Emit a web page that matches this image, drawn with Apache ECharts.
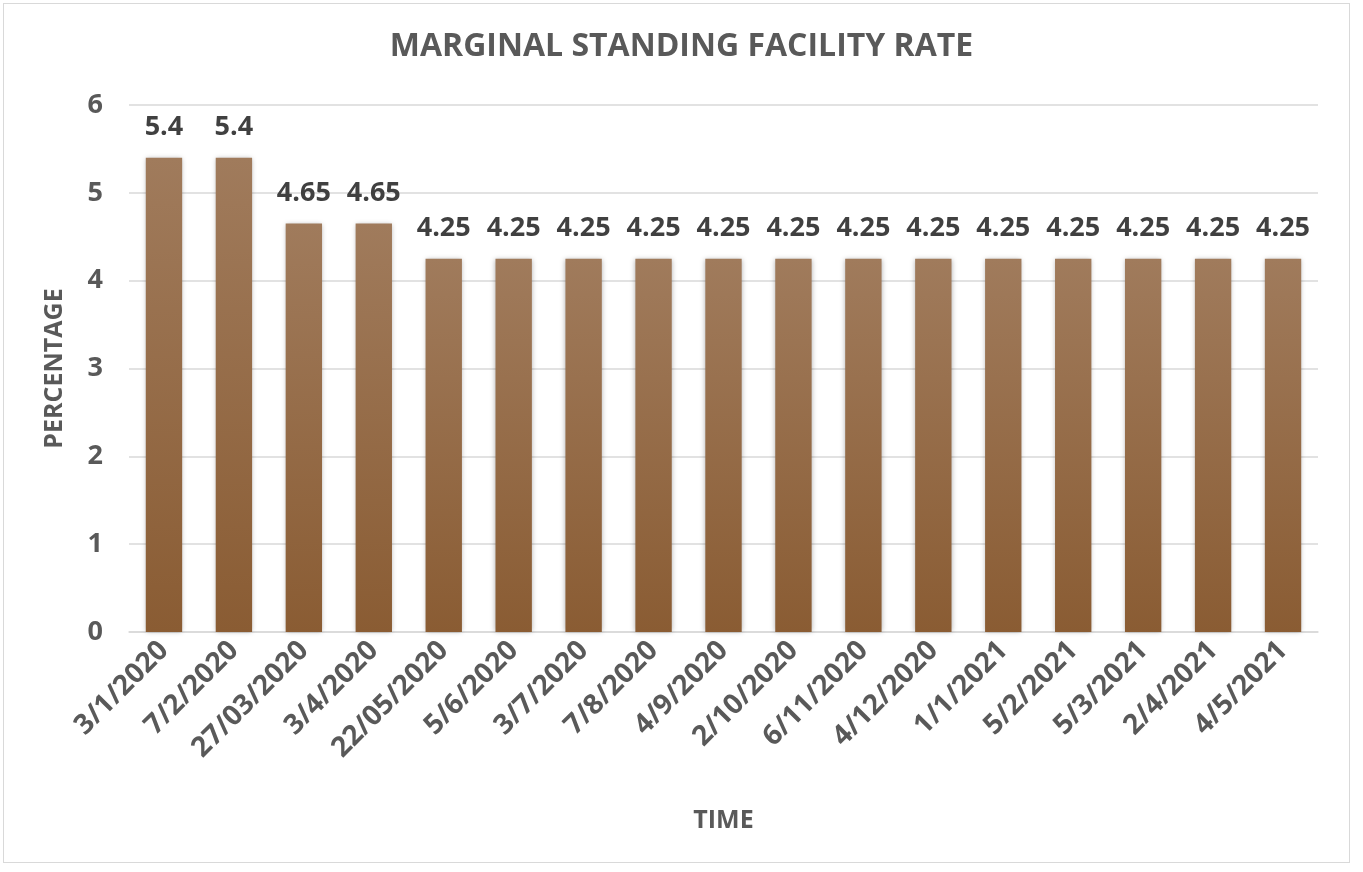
<!DOCTYPE html>
<html>
<head>
<meta charset="utf-8">
<script src="https://cdn.jsdelivr.net/npm/echarts@6/dist/echarts.min.js"></script>
<style>
  html, body { margin: 0; padding: 0; background: #fff; }
  #chart { width: 1363px; height: 872px; }
  .frame { position: absolute; left: 3px; top: 3px; width: 1345px; height: 858px; border: 1px solid #d9d9d9; pointer-events: none; }
</style>
</head>
<body>
<div id="chart"></div>
<div class="frame"></div>
<script>
// dates of MSF rate observations
var categories = ["3/1/2020", "7/2/2020", "27/03/2020", "3/4/2020", "22/05/2020", "5/6/2020",
  "3/7/2020", "7/8/2020", "4/9/2020", "2/10/2020", "6/11/2020", "4/12/2020",
  "1/1/2021", "5/2/2021", "5/3/2021", "2/4/2021", "4/5/2021"];
var msfRate = [5.4, 5.4, 4.65, 4.65, 4.25, 4.25, 4.25, 4.25, 4.25, 4.25, 4.25, 4.25,
  4.25, 4.25, 4.25, 4.25, 4.25];
var yTicks = [0, 1, 2, 3, 4, 5, 6];

var font = "'Open Sans', 'Noto Sans', sans-serif";
var myChart = echarts.init(document.getElementById("chart"));
var option = {
  backgroundColor: "#fff",
  animation: false,
  title: {
    text: "MARGINAL STANDING FACILITY RATE",
    left: "center",
    top: 26,
    textStyle: { fontFamily: font, fontSize: 32, fontWeight: "bold", color: "#595959" }
  },
  grid: { left: 129, right: 45, top: 105, bottom: 240 },
  xAxis: {
    type: "category",
    data: categories,
    name: "TIME",
    nameLocation: "middle",
    nameGap: 176,
    nameTextStyle: { fontFamily: font, fontSize: 25, fontWeight: "bold", color: "#595959" },
    axisLine: { lineStyle: { color: "#d9d9d9", width: 1.5 } },
    axisTick: { show: false },
    axisLabel: {
      interval: 0,
      rotate: 45,
      margin: 14,
      fontFamily: font, fontSize: 28, fontWeight: "bold", color: "#595959"
    }
  },
  yAxis: {
    type: "value",
    min: yTicks[0],
    max: yTicks[yTicks.length - 1],
    interval: 1,
    name: "PERCENTAGE",
    nameLocation: "middle",
    nameGap: 62,
    nameTextStyle: { fontFamily: font, fontSize: 25, fontWeight: "bold", color: "#595959" },
    axisLine: { show: false },
    axisTick: { show: false },
    axisLabel: { margin: 26, fontFamily: font, fontSize: 27, fontWeight: "bold", color: "#595959" },
    splitLine: { lineStyle: { color: "#d9d9d9", width: 1.5 } }
  },
  series: [{
    type: "bar",
    data: msfRate,
    barWidth: "52%",
    itemStyle: {
      color: new echarts.graphic.LinearGradient(0, 0, 0, 1, [
        { offset: 0, color: "#a07b5c" },
        { offset: 1, color: "#8a5c33" }
      ]),
      shadowColor: "rgba(0,0,0,0.3)",
      shadowBlur: 5
    },
    label: {
      show: true,
      position: "top",
      distance: 17,
      fontFamily: font, fontSize: 27, fontWeight: "bold", color: "#404040"
    }
  }]
};
myChart.setOption(option);
</script>
</body>
</html>
